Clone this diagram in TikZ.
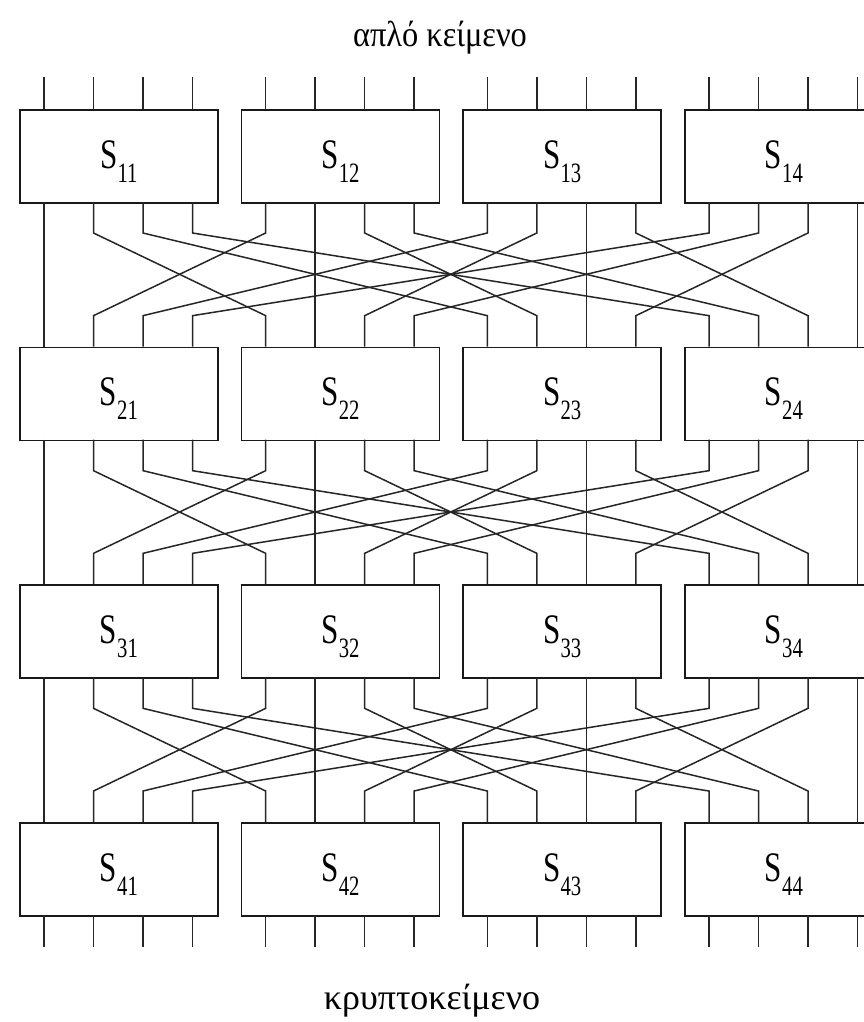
\documentclass[tikz,border=0pt]{standalone}
\usepackage{fontspec}
\setmainfont{Liberation Serif}
\usetikzlibrary{calc}
\begin{document}
\begin{tikzpicture}[x=1pt,y=-1pt,
  sbox/.style={draw=black!90, line width=1.8pt, minimum width=198pt, minimum height=93pt, inner sep=0pt, anchor=north west},
  slabel/.style={anchor=base, inner sep=0pt, font=\fontsize{42}{42}\selectfont},
  wire/.style={draw=black!85, line width=1.5pt, line join=miter},
  caption/.style={anchor=base, inner sep=0pt, font=\fontsize{36}{36}\selectfont}]
\useasboundingbox (0,0) rectangle (864,1022);
\clip (0,0) rectangle (864,1022);
% boxes and ports
\foreach \r in {1,...,4} {
  \foreach \j in {1,...,4} {
    \pgfmathsetmacro{\bx}{19+221.67*(\j-1)}
    \pgfmathsetmacro{\by}{109+237.67*(\r-1)}
    \node[sbox] (s\r\j) at (\bx,\by) {};
    \node[slabel] (l\r\j) at ($(s\r\j.north)+(0,59)$) {\scalebox{0.74}[1]{S\raisebox{-14pt}{\fontsize{28}{28}\selectfont\r\j}}};
    \foreach \i in {1,...,4} {
      \pgfmathsetmacro{\px}{44+221.67*(\j-1)+49.5*(\i-1)}
      \coordinate (t\r\j\i) at (\px,\by);
      \coordinate (b\r\j\i) at (\px,\by+93);
    }
  }
}
% free ends at top and bottom
\foreach \j in {1,...,4} {
  \foreach \i in {1,...,4} {
    \coordinate (in\j\i) at ($(t1\j\i)+(0,-32)$);
    \coordinate (out\j\i) at ($(b4\j\i)+(0,32)$);
    \draw[wire] (in\j\i) -- (t1\j\i);
    \draw[wire] (b4\j\i) -- (out\j\i);
  }
}
% permutation layers
\foreach \r in {1,2,3} {
  \pgfmathtruncatemacro{\rr}{\r+1}
  \foreach \j in {1,...,4} {
    \foreach \i in {1,...,4} {
      \draw[wire] (b\r\j\i) -- ++(0,31) -- ($(t\rr\i\j)+(0,-31)$) -- (t\rr\i\j);
    }
  }
}
% captions
\node[caption] (plain) at (440,47) {\scalebox{0.9}[1]{απλό κείμενο}};
\node[caption] (cipher) at (432,1009) {κρυπτοκείμενο};
\end{tikzpicture}
\end{document}
